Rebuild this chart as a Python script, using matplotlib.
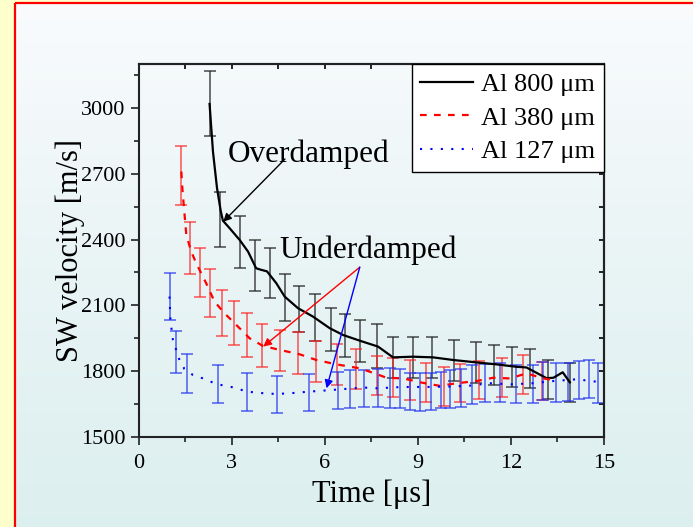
import numpy as np
import matplotlib
matplotlib.use('Agg')
import matplotlib.pyplot as plt
from matplotlib.colors import LinearSegmentedColormap
from matplotlib.patches import Rectangle

plt.rcParams['font.family'] = ['Liberation Serif', 'DejaVu Serif']

# Al 800 um (solid black)
t800_line = [2.29, 2.40, 2.53, 2.65, 2.72, 2.94, 3.26, 3.53, 3.79, 3.95, 4.14, 4.44, 4.71, 5.14, 5.62,
             6.16, 6.59, 7.13, 7.72, 8.2, 8.85, 9.49, 10.14, 10.89, 11.54, 12.18, 12.5, 13.15, 13.37,
             13.67, 13.9]
v800_line = [3018, 2800, 2634, 2530, 2486, 2451, 2398, 2345, 2269, 2262, 2255, 2201, 2140, 2087, 2049,
             1996, 1965, 1939, 1912, 1863, 1866, 1863, 1851, 1840, 1831, 1820, 1817, 1768, 1770,
             1795, 1749]
t800_err = [2.29, 2.63, 3.26, 3.76, 4.23, 4.71, 5.17, 5.7, 6.19, 6.67, 7.13, 7.67, 8.2, 8.83, 9.47,
            10.16, 10.86, 11.45, 12.02, 12.61, 13.18, 13.9]
v800_err = [3020, 2491, 2390, 2282, 2248, 2137, 2085, 2045, 1991, 1962, 1937, 1913, 1863, 1863, 1863,
            1848, 1840, 1828, 1820, 1812, 1763, 1748]
e800 = [150, 125, 118, 115, 114, 107, 105, 106, 99, 99, 95, 100, 93, 93, 93, 94, 92, 92, 92, 89, 88, 88]

# Al 380 um (dashed red)
t380_line = [1.38, 1.42, 1.54, 1.7, 1.86, 2.18, 2.45, 2.77, 3.1, 3.58, 4.01, 4.55, 5.19, 5.73, 6.38,
             7.13, 7.67, 7.99, 8.53, 9.12, 9.71, 10.25, 10.89, 11.43, 11.97, 12.5, 13.04, 13.37]
v380_line = [2710, 2620, 2421, 2345, 2292, 2201, 2117, 2064, 2018, 1950, 1915, 1897, 1877, 1851, 1831,
             1813, 1787, 1770, 1767, 1748, 1733, 1745, 1755, 1770, 1767, 1790, 1767, 1760]
t380_err = [1.38, 1.65, 1.97, 2.31, 2.7, 3.08, 3.49, 3.99, 4.57, 5.14, 5.73, 6.4, 7.02, 7.67, 8.2,
            8.74, 9.25, 9.83, 10.35, 10.97, 11.72, 12.38, 13.0]
v380_err = [2693, 2361, 2250, 2157, 2066, 2021, 1965, 1917, 1895, 1883, 1845, 1831, 1810, 1780, 1771,
            1760, 1747, 1730, 1745, 1760, 1773, 1785, 1756]
e380 = [135, 118, 113, 108, 104, 101, 99, 97, 93, 97, 93, 92, 91, 88, 88, 91, 89, 88, 87, 87, 89, 89, 87]

# Al 127 um (dotted blue)
t127_line = [1.0, 1.03, 1.11, 1.32, 1.48, 1.75, 2.08, 2.4, 2.74, 3.1, 3.42, 3.77, 4.1, 4.44, 4.82,
             5.14, 5.49, 5.84, 6.19, 6.5, 6.9, 7.3, 7.7, 8.5, 9.3, 10.0, 10.68, 11.32, 12.0, 12.7,
             13.37, 14.12, 14.76, 15.0]
v127_line = [2140, 2030, 1942, 1851, 1810, 1783, 1767, 1748, 1734, 1725, 1710, 1702, 1699, 1696, 1699,
             1702, 1707, 1710, 1714, 1717, 1722, 1725, 1722, 1728, 1728, 1730, 1734, 1745, 1740, 1745,
             1755, 1763, 1752, 1755]
t127_err = [1.0, 1.2, 1.57, 2.55, 3.5, 4.47, 5.49, 6.43, 6.83, 7.26, 7.72, 8.09, 8.44, 8.76, 9.06,
            9.41, 9.76, 10.05, 10.38, 10.76, 11.18, 11.66, 12.15, 12.71, 13.03, 13.46, 13.83, 14.18,
            14.51, 14.8]
v127_err = [2140, 1889, 1790, 1741, 1705, 1695, 1703, 1712, 1718, 1720, 1722, 1724, 1722, 1708, 1705,
            1708, 1714, 1718, 1722, 1739, 1745, 1748, 1742, 1742, 1755, 1747, 1750, 1760, 1764, 1746]
e127 = [106, 96, 88, 87, 85, 85, 85, 86, 87, 85, 87, 90, 88, 85, 85, 85, 84, 87, 87, 89, 87, 88, 88,
        88, 86, 89, 88, 87, 88, 90]

W, H = 693, 527
fig = plt.figure(figsize=(W / 100, H / 100), dpi=100, facecolor='#ffffcc')

# slide background
bg = fig.add_axes([0, 0, 1, 1], zorder=-10)
bg.set_xlim(0, W)
bg.set_ylim(H, 0)
bg.axis('off')
cmap = LinearSegmentedColormap.from_list('bg', ['#f9fbfd', '#e9f4f5', '#dcefef'])
grad = np.linspace(0, 1, 256).reshape(-1, 1)
bg.imshow(grad, cmap=cmap, extent=[15, W + 10, H + 10, 3], aspect='auto')
bg.add_patch(Rectangle((15, 3), W, H, fill=False, edgecolor='red', lw=1.6))

# slide title, mostly above the visible area
fig.text(143 / W, 1 + 11 / H, 'Damping of SW velocity for different plates', fontsize=23,
         fontweight='bold', va='baseline', ha='left')

ax = fig.add_axes([138.5 / W, 1 - 437 / H, (604 - 138.5) / W, (437 - 64) / H])
ax.patch.set_alpha(0)

ax.errorbar(t800_err, v800_err, yerr=e800, fmt='none', ecolor='#222222', alpha=0.75,
            elinewidth=1.2, capsize=4.5, capthick=1.2)
ax.errorbar(t380_err, v380_err, yerr=e380, fmt='none', ecolor='#ff2020', alpha=0.7,
            elinewidth=1.2, capsize=4.5, capthick=1.2)
ax.errorbar(t127_err, v127_err, yerr=e127, fmt='none', ecolor='#2030ee', alpha=0.7,
            elinewidth=1.2, capsize=4.5, capthick=1.2)

ax.plot(t800_line, v800_line, color='black', lw=1.6, label='Al 800 μm')
ax.plot(t380_line, v380_line, color='red', lw=1.6, linestyle=(0, (3, 3.3)), label='Al 380 μm')
ax.plot(t127_line, v127_line, color='blue', lw=1.5, linestyle=(0, (1, 4)), label='Al 127 μm')

ax.set_xlim(0, 15)
ax.set_ylim(1500, 3200)
ax.set_xticks(np.arange(0, 16, 3))
ax.set_xticks(np.arange(1.5, 15, 3), minor=True)
ax.set_yticks(np.arange(1500, 3001, 300))
ax.set_yticks(np.arange(1650, 3200, 300), minor=True)
ax.tick_params(which='both', direction='out', labelsize=16, width=1.2, color='#222222')
ax.tick_params(which='major', length=6)
ax.tick_params(which='minor', length=3.5)
ax.tick_params(axis='x', pad=6)
for s in ax.spines.values():
    s.set_linewidth(1.5)
    s.set_color('#222222')

top = ax.secondary_xaxis('top')
top.set_xticks(np.arange(0, 16, 3))
top.set_xticks(np.arange(1.5, 15, 3), minor=True)
top.tick_params(which='both', direction='in', length=3.5, width=1.2, labeltop=False)
right = ax.secondary_yaxis('right')
right.set_yticks(np.arange(1500, 3001, 300))
right.set_yticks(np.arange(1650, 3200, 300), minor=True)
right.tick_params(which='both', direction='in', length=3.5, width=1.2, labelright=False)
for sa in (top, right):
    for s in sa.spines.values():
        s.set_linewidth(1.5)
        s.set_color('#222222')

ax.set_xlabel('Time [μs]', fontsize=22, labelpad=5)
ax.set_ylabel('SW velocity [m/s]', fontsize=22, labelpad=-3)

ax.text(2.89, 2753, 'Overdamped', fontsize=22.5, va='baseline', ha='left')
ax.annotate('', xy=(2.73, 2481), xytext=(4.72, 2767),
            arrowprops=dict(arrowstyle='-|>', color='black', lw=1.0, mutation_scale=12,
                            shrinkA=0, shrinkB=0))
ax.text(4.55, 2316, 'Underdamped', fontsize=22.5, va='baseline', ha='left')
ax.annotate('', xy=(4.02, 1912), xytext=(7.13, 2274),
            arrowprops=dict(arrowstyle='-|>', color='red', lw=1.0, mutation_scale=12,
                            shrinkA=0, shrinkB=0))
ax.annotate('', xy=(6.06, 1722), xytext=(7.13, 2274),
            arrowprops=dict(arrowstyle='-|>', color='blue', lw=1.0, mutation_scale=12,
                            shrinkA=0, shrinkB=0))

leg = ax.legend(loc='upper right', bbox_to_anchor=(1, 1), fontsize=19, frameon=True,
                fancybox=False, edgecolor='black', framealpha=1, borderaxespad=0,
                handlelength=2.0, handletextpad=0.3, labelspacing=0.38, borderpad=0.33)
leg.get_frame().set_linewidth(1.0)

fig.savefig('out.png', dpi=100, facecolor=fig.get_facecolor())
